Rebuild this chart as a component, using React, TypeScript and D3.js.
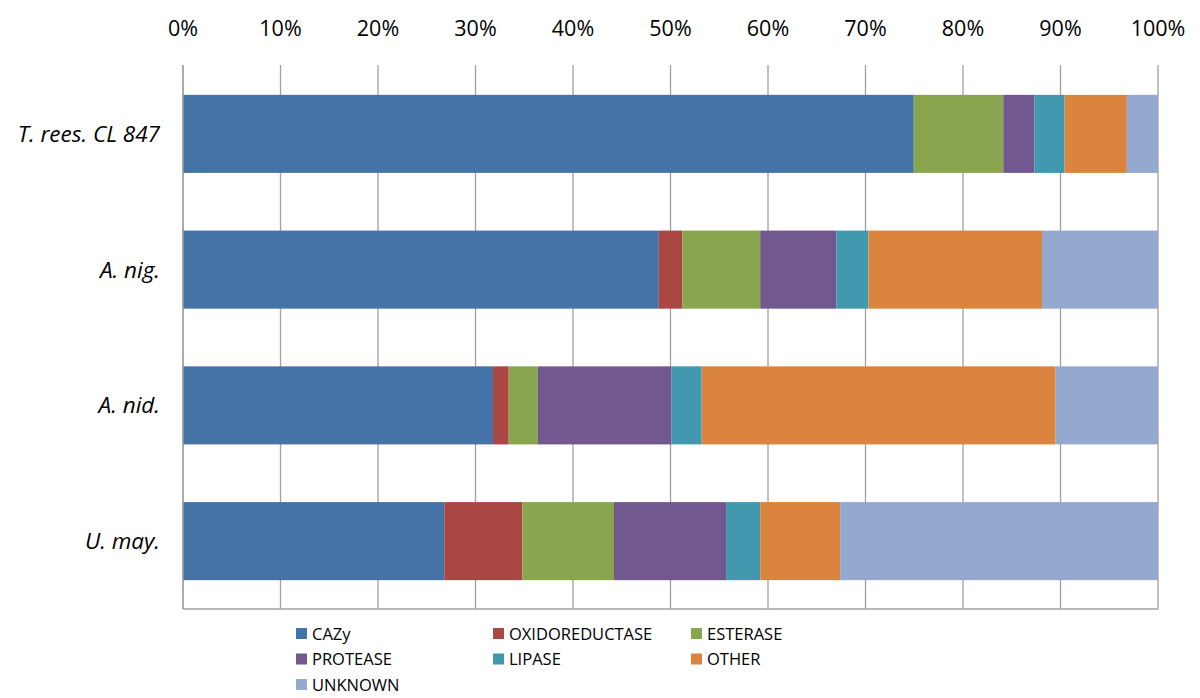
import React from 'react';
import * as d3 from 'd3';

const species = ['T. rees. CL 847', 'A. nig.', 'A. nid.', 'U. may.'];
const groups = ['CAZy', 'OXIDOREDUCTASE', 'ESTERASE', 'PROTEASE', 'LIPASE', 'OTHER', 'UNKNOWN'];
const colors = ['#4572A7', '#AA4643', '#89A54E', '#71588F', '#4198AF', '#DB843D', '#93A9CF'];

// percent shares per species, in group order
const cazy = [75.1, 48.8, 31.8, 26.8];
const oxidoreductase = [0, 2.4, 1.6, 8.0];
const esterase = [9.2, 8.0, 3.0, 9.4];
const protease = [3.2, 7.8, 13.7, 11.5];
const lipase = [3.1, 3.3, 3.1, 3.5];
const other = [6.4, 17.8, 36.3, 8.2];
const unknown = [3.2, 11.9, 10.5, 32.6];

const xTicks = [0, 10, 20, 30, 40, 50, 60, 70, 80, 90, 100];

const W = 1200;
const H = 698;
const margin = { left: 183, right: 42, top: 65, bottom: 90 };
const font = '"Open Sans", "Noto Sans", sans-serif';

export default function App() {
  const seriesValues = [cazy, oxidoreductase, esterase, protease, lipase, other, unknown];
  const rows = species.map((s, i) => {
    const r: any = { species: s };
    groups.forEach((g, j) => (r[g] = seriesValues[j][i]));
    return r;
  });
  const stacked = d3.stack<any>().keys(groups).offset(d3.stackOffsetExpand)(rows);

  const x = d3.scaleLinear().domain([0, 1]).range([margin.left, W - margin.right]);
  const y = d3
    .scaleBand()
    .domain(species)
    .range([margin.top + 1, H - margin.bottom + 1])
    .paddingInner(0.425)
    .paddingOuter(0.2125);

  const yTop = margin.top;
  const yBot = H - margin.bottom + 1;
  const grid = '#a0a0a0';

  const legendCols = [296, 493, 691];

  return (
    <svg width={W} height={H} style={{ position: 'absolute', left: 0, top: 0, background: '#fff' }}>
      {/* gridlines */}
      {xTicks.map(t => (
        <line key={t} x1={x(t / 100)} x2={x(t / 100)} y1={yTop} y2={yBot} stroke={grid} strokeWidth={1.3} />
      ))}
      {/* bars */}
      {stacked.map((layer, j) => (
        <g key={groups[j]} fill={colors[j]}>
          {layer.map((d, i) => (
            <rect
              key={i}
              x={x(d[0])}
              width={Math.max(0, x(d[1]) - x(d[0]))}
              y={y(species[i])}
              height={y.bandwidth()}
            />
          ))}
        </g>
      ))}
      <line x1={x(0)} x2={x(1)} y1={yBot} y2={yBot} stroke={grid} strokeWidth={1.3} />
      <line x1={x(0)} x2={x(0)} y1={yTop} y2={yBot} stroke={grid} strokeWidth={1.3} />
      {/* top tick labels */}
      {xTicks.map(t => (
        <text key={t} x={x(t / 100)} y={36} textAnchor="middle" fontFamily={font} fontSize={21.5} fill="#000">
          {t}%
        </text>
      ))}
      {/* category labels */}
      {species.map(s => (
        <text
          key={s}
          x={160}
          y={(y(s) as number) + y.bandwidth() / 2}
          dy="0.35em"
          textAnchor="end"
          fontFamily={font}
          fontStyle="italic"
          fontSize={22.5}
          fill="#000"
        >
          {s}
        </text>
      ))}
      {/* legend */}
      {groups.map((g, j) => {
        const col = j % 3;
        const row = Math.floor(j / 3);
        const lx = legendCols[col];
        const ly = 634 + row * 25.5;
        return (
          <g key={g}>
            <rect x={lx} y={ly - 6} width={11} height={11} fill={colors[j]} />
            <text x={lx + 16} y={ly} dy="0.36em" fontFamily={font} fontSize={16.5} fill="#000">
              {g}
            </text>
          </g>
        );
      })}
    </svg>
  );
}
